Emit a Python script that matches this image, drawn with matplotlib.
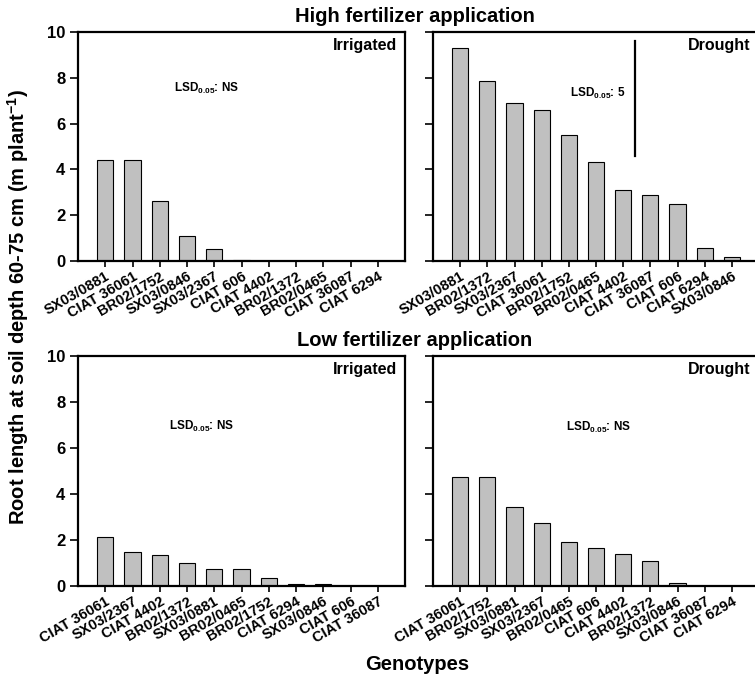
import matplotlib
matplotlib.use("Agg")
import matplotlib.pyplot as plt

plt.rcParams['font.family'] = ['Liberation Sans', 'DejaVu Sans']
plt.rcParams['font.weight'] = 'bold'
plt.rcParams['mathtext.fontset'] = 'custom'
plt.rcParams['mathtext.rm'] = 'Liberation Sans:bold'
plt.rcParams['mathtext.bf'] = 'Liberation Sans:bold'
plt.rcParams['mathtext.it'] = 'Liberation Sans:bold'
plt.rcParams['mathtext.default'] = 'bf'

# high fertilizer, irrigated
hi_irr_gen = ["SX03/0881", "CIAT 36061", "BR02/1752", "SX03/0846", "SX03/2367", "CIAT 606",
              "CIAT 4402", "BR02/1372", "BR02/0465", "CIAT 36087", "CIAT 6294"]
hi_irr_val = [4.40, 4.40, 2.63, 1.07, 0.51, 0.06, 0, 0, 0, 0, 0]

# high fertilizer, drought
hi_dro_gen = ["SX03/0881", "BR02/1372", "SX03/2367", "CIAT 36061", "BR02/1752", "BR02/0465",
              "CIAT 4402", "CIAT 36087", "CIAT 606", "CIAT 6294", "SX03/0846"]
hi_dro_val = [9.31, 7.86, 6.91, 6.58, 5.49, 4.32, 3.10, 2.90, 2.49, 0.55, 0.16]

# low fertilizer, irrigated
lo_irr_gen = ["CIAT 36061", "SX03/2367", "CIAT 4402", "BR02/1372", "SX03/0881", "BR02/0465",
              "BR02/1752", "CIAT 6294", "SX03/0846", "CIAT 606", "CIAT 36087"]
lo_irr_val = [2.13, 1.48, 1.35, 1.02, 0.75, 0.74, 0.36, 0.10, 0.09, 0, 0]

# low fertilizer, drought
lo_dro_gen = ["CIAT 36061", "BR02/1752", "SX03/0881", "SX03/2367", "BR02/0465", "CIAT 606",
              "CIAT 4402", "BR02/1372", "SX03/0846", "CIAT 36087", "CIAT 6294"]
lo_dro_val = [4.76, 4.75, 3.43, 2.76, 1.92, 1.64, 1.41, 1.10, 0.13, 0, 0]

lsd_labels = ["LSD$_{0.05}$: NS", "LSD$_{0.05}$: 5", "LSD$_{0.05}$: NS", "LSD$_{0.05}$: NS"]
lsd_bar = 5.0

W, H = 755, 682
fig = plt.figure(figsize=(W / 100, H / 100), dpi=100)


def make_ax(left, right, top, bottom):
    return fig.add_axes([left / W, 1 - bottom / H, (right - left) / W, (bottom - top) / H])


ax_hi_irr = make_ax(78, 405, 32, 261)
ax_hi_dro = make_ax(433, 759, 32, 261)
ax_lo_irr = make_ax(78, 405, 356, 586)
ax_lo_dro = make_ax(433, 759, 356, 586)

panels = [
    (ax_hi_irr, hi_irr_gen, hi_irr_val, "Irrigated", lsd_labels[0], (3.7, 7.55)),
    (ax_hi_dro, hi_dro_gen, hi_dro_val, "Drought", lsd_labels[1], (5.05, 7.3)),
    (ax_lo_irr, lo_irr_gen, lo_irr_val, "Irrigated", lsd_labels[2], (3.55, 6.95)),
    (ax_lo_dro, lo_dro_gen, lo_dro_val, "Drought", lsd_labels[3], (5.1, 6.9)),
]

for i, (ax, gen, val, cond, lsd, pos) in enumerate(panels):
    x = list(range(len(gen)))
    ax.bar(x, val, width=0.6, color='#c0c0c0', edgecolor='black', linewidth=0.8)
    ax.set_xlim(-1, 11)
    ax.set_ylim(0, 10)
    ax.set_yticks([0, 2, 4, 6, 8, 10])
    ax.set_xticks(x)
    ax.set_xticklabels(gen, rotation=30, ha='right', rotation_mode='anchor', fontsize=10.5,
                       fontweight='bold')
    ax.tick_params(axis='x', direction='out', length=4, width=1.2, pad=2)
    ax.tick_params(axis='y', direction='out', length=6, width=1.2, labelsize=12, pad=3)
    for s in ax.spines.values():
        s.set_linewidth(1.6)
    if i % 2 == 1:
        ax.set_yticklabels([])
    ax.text(0.975, 0.975, cond, transform=ax.transAxes, ha='right', va='top', fontsize=11.5,
            fontweight='bold')
    ax.text(pos[0], pos[1], lsd, ha='center', va='center', fontsize=8.5, fontweight='bold')

# LSD bar in high fertilizer drought panel
ax_hi_dro.plot([6.45, 6.45], [9.6, 9.6 - lsd_bar], color='black', lw=1.6)

fig.text(415 / W, 1 - 16 / H, "High fertilizer application", ha='center', va='center',
         fontsize=14.5, fontweight='bold')
fig.text(415 / W, 1 - 341 / H, "Low fertilizer application", ha='center', va='center',
         fontsize=14.5, fontweight='bold')
fig.text(417 / W, 1 - 664 / H, "Genotypes", ha='center', va='center', fontsize=14.5,
         fontweight='bold')
fig.text(18 / W, 1 - 307 / H, "Root length at soil depth 60-75 cm (m plant$^{-1}$)",
         rotation=90, ha='center', va='center', fontsize=14.5, fontweight='bold')

fig.savefig("out.png", dpi=100)
